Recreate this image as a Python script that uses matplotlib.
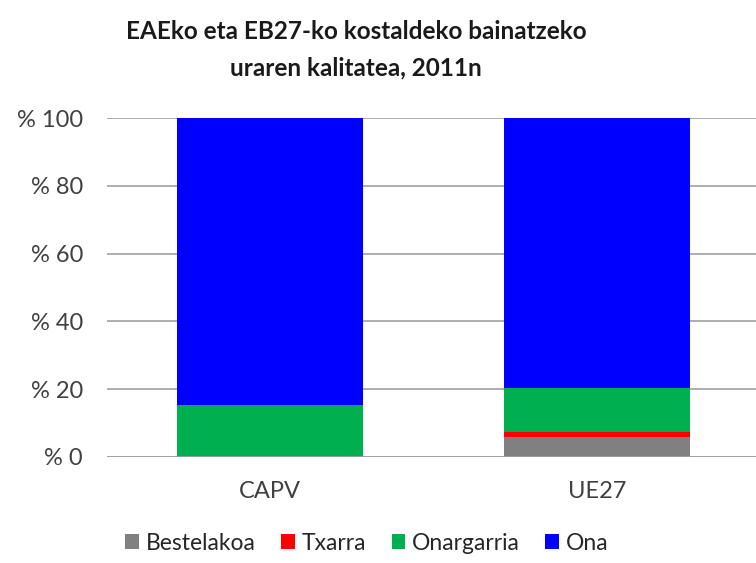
import matplotlib
matplotlib.use("Agg")
import matplotlib.pyplot as plt
from matplotlib.patches import Patch
import numpy as np

categories = ["CAPV", "UE27"]
series_names = ["Bestelakoa", "Txarra", "Onargarria", "Ona"]
bestelakoa = [0.0, 5.9]
txarra = [0.0, 1.5]
onargarria = [15.4, 13.0]
ona = [84.6, 79.6]
colors = ["#808080", "#ff0000", "#00b050", "#0000ff"]
yticks = [0, 20, 40, 60, 80, 100]
ytick_labels = ["% 0", "% 20", "% 40", "% 60", "% 80", "% 100"]
title = "EAEko eta EB27-ko kostaldeko bainatzeko\nuraren kalitatea, 2011n"

plt.rcParams['font.family'] = ['Lato', 'DejaVu Sans']

fig = plt.figure(figsize=(7.56, 5.63), dpi=100)
ax = fig.add_axes([106.5/756, 0.1883, 654/756, 0.6021])

x = np.arange(len(categories))
bottom = np.zeros(len(categories))
for name, vals, c in zip(series_names, [bestelakoa, txarra, onargarria, ona], colors):
    ax.bar(x, vals, bottom=bottom, width=0.57, color=c, label=name, zorder=3)
    bottom += np.array(vals)

ax.set_xlim(-0.5, 1.5)
ax.set_ylim(0, 100)
ax.set_yticks(yticks)
ax.set_yticklabels(ytick_labels, fontsize=17, color="#404040")
ax.set_xticks(x)
ax.set_xticklabels(categories, fontsize=17, color="#404040")
ax.tick_params(axis='both', length=0)
ax.tick_params(axis='y', pad=17)
ax.tick_params(axis='x', pad=17)
ax.grid(axis='y', color="#a0a0a0", linewidth=1.2, zorder=0)
for s in ax.spines.values():
    s.set_visible(False)
ax.axhline(0, color="#a0a0a0", linewidth=1.2, zorder=4)

fig.text(356/756, 1 - 50/563, title, ha='center', va='center', fontsize=17.5,
         fontweight='bold', color="#1a1a1a", linespacing=1.7)

handles = [Patch(facecolor=c, edgecolor='none') for c in colors]
fig.legend(handles, series_names, loc='center', bbox_to_anchor=(367/756, 1 - 543/563),
           ncol=4, frameon=False, fontsize=16.5, handlelength=0.6, handleheight=0.6,
           handletextpad=0.3, columnspacing=1.1, labelcolor="#262626")

fig.savefig("out.png", dpi=100)
